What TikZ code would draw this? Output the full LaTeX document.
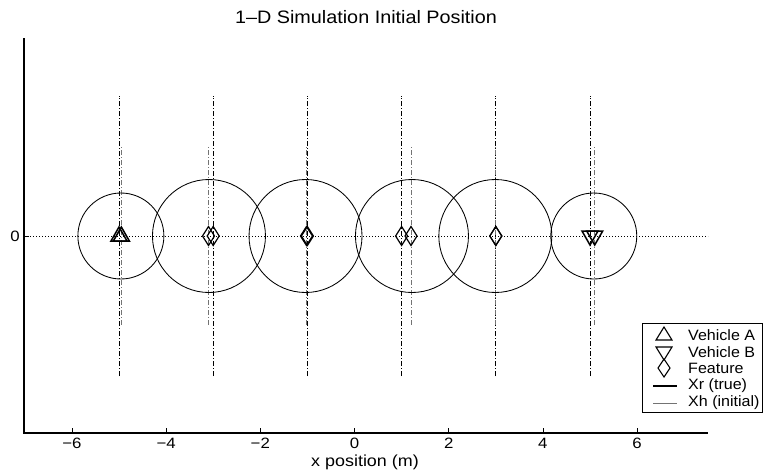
\documentclass[tikz,border=0pt]{standalone}
\usepackage{fontspec}
\setmainfont{Liberation Sans}
\begin{document}
\begin{tikzpicture}[x=1pt,y=-1pt,
  axisline/.style={line width=1.5pt},
  truelink/.style={line width=0.9pt, dash pattern=on 5pt off 2pt on 1pt off 2pt},
  estlink/.style={line width=0.7pt, black!55, dash pattern=on 5pt off 2pt on 1pt off 2pt},
  zeroline/.style={line width=1pt, dash pattern=on 1pt off 2pt},
  covcircle/.style={line width=0.85pt},
  marker/.style={line width=1.5pt, line join=miter},
  lbl/.style={font=\fontsize{15}{17}\selectfont, xscale=1.12, inner sep=0pt},
  legtext/.style={font=\fontsize{15}{17}\selectfont, xscale=1.07, inner sep=0pt, anchor=west},
]
\useasboundingbox (0,0) rectangle (763,474);
\fill[white] (0,0) rectangle (763,474);

% title
\node[font=\fontsize{18}{20}\selectfont, xscale=1.1, inner sep=0pt] (title) at (366,17) {1–D Simulation Initial Position};

% axes
\coordinate (ytop) at (24,38);
\coordinate (orig) at (24,433);
\coordinate (xend) at (708,433);
\draw[axisline] (ytop) -- (orig) -- (xend);

% x ticks
\foreach \d/\t [count=\i] in {-6/−6,-4/−4,-2/−2,0/0,2/2,4/4,6/6}{
  \coordinate (tk\i) at ({354.5+47.1*\d},433);
  \draw[line width=0.8pt] (tk\i) -- ++(0,-5);
  \node[lbl] (tl\i) at ({354.5+47.1*\d},443) {\t};
}
\node[font=\fontsize{16}{18}\selectfont, xscale=1.12, inner sep=0pt] (xlab) at (365,462) {x position (m)};

% y tick and zero line
\coordinate (zl) at (24,236);
\coordinate (zr) at (708,236);
\draw[zeroline] (zl) -- (zr);
\draw[line width=0.8pt] (zl) -- ++(5,0);
\node[lbl] (ylab) at (15,236) {0};

% data
\begin{scope}[shift={(354.5,236)}, x=47.1pt, y=197.5pt]
  % true position lines
  \foreach \p in {-5,-3,-1,1,3,5}{
    \draw[truelink] (\p,-0.71) -- (\p,0.71);
  }
  % initial estimate lines
  \foreach \p in {-4.95,-3.1,-1.02,1.2,3.0,5.1}{
    \draw[estlink] (\p,-0.45) -- (\p,0.45);
  }
  % covariance circles
  \foreach \p/\r in {-4.96/43,-3.09/56.5,-1.04/56.5,1.22/56.5,2.99/56.5,5.08/43}{
    \draw[covcircle] (\p,0) circle (\r pt);
  }
  % vehicle A (true and estimate)
  \foreach \p in {-5,-4.95}{
    \draw[marker] (\p,0) ++(-8pt,-5pt) -- ++(16pt,0) -- ++(-8pt,14pt) -- cycle;
  }
  % vehicle B
  \foreach \p in {5,5.1}{
    \draw[marker] (\p,0) ++(-8pt,5pt) -- ++(16pt,0) -- ++(-8pt,-14pt) -- cycle;
  }
  % features
  \foreach \p in {-3,-3.1,-1,-1.02,1,1.2,3,3.0}{
    \draw[marker, line width=1.2pt] (\p,0) ++(-6pt,0) -- ++(6pt,9.5pt) -- ++(6pt,-9.5pt) -- ++(-6pt,-9.5pt) -- cycle;
  }
\end{scope}

% legend
\node[draw, line width=1.2pt, minimum width=120pt, minimum height=89pt, anchor=north west, inner sep=0pt] (legend) at (642,323) {};
\coordinate (lm1) at (664,335);
\coordinate (lm2) at (664,352);
\coordinate (lm3) at (664,368);
\draw[line width=1.1pt] (lm1) ++(-8pt,-5pt) -- ++(16pt,0) -- ++(-8pt,13pt) -- cycle;
\draw[line width=1.1pt] (lm2) ++(-8pt,5pt) -- ++(16pt,0) -- ++(-8pt,-13pt) -- cycle;
\draw[line width=1.1pt] (lm3) ++(-6pt,0) -- ++(6pt,9pt) -- ++(6pt,-9pt) -- ++(-6pt,-9pt) -- cycle;
\coordinate (lr1) at (653,386);
\coordinate (lr2) at (677,386);
\coordinate (lh1) at (653,403);
\coordinate (lh2) at (677,403);
\draw[line width=1.1pt] (lr1) -- (lr2);
\draw[line width=0.9pt, black!55] (lh1) -- (lh2);
\node[legtext] (la) at (688,335) {Vehicle A};
\node[legtext] (lb) at (688,352) {Vehicle B};
\node[legtext] (lf) at (688,368) {Feature};
\node[legtext] (lxr) at (688,386) {Xr (true)};
\node[legtext] (lxh) at (688,403) {Xh (initial)};
\end{tikzpicture}
\end{document}
